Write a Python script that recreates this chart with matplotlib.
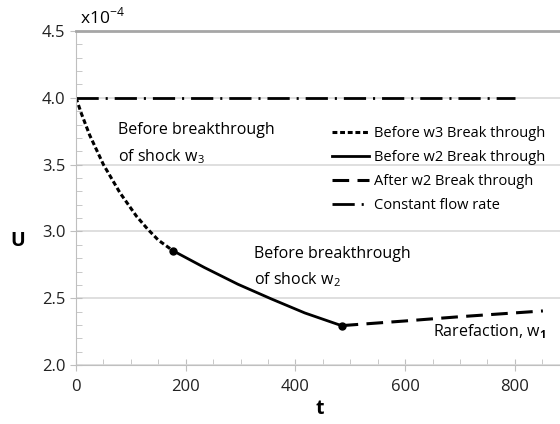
import numpy as np
import matplotlib
matplotlib.use('Agg')
import matplotlib.pyplot as plt
from matplotlib.ticker import MultipleLocator, FormatStrFormatter

plt.rcParams['font.family'] = ['Open Sans', 'DejaVu Sans']
plt.rcParams['mathtext.fontset'] = 'custom'
plt.rcParams['mathtext.rm'] = 'Open Sans'
plt.rcParams['mathtext.bf'] = 'Open Sans:bold'
plt.rcParams['lines.scale_dashes'] = False

# U in units of 1e-4
t_w3 = [0, 10, 25, 50, 80, 110, 130, 150, 177]
u_w3 = [4.0, 3.88, 3.72, 3.50, 3.29, 3.115, 3.02, 2.935, 2.855]

t_w2 = [177, 234, 295, 356, 417, 484]
u_w2 = [2.855, 2.73, 2.605, 2.495, 2.39, 2.295]

t_after = [484, 600, 700, 851]
u_after = [2.295, 2.33, 2.362, 2.405]

t_const = [0, 800]
u_const = [4.0, 4.0]

breaks_t = [177, 484]
breaks_u = [2.855, 2.295]

fig = plt.figure(figsize=(5.6, 4.24), dpi=100)
ax = fig.add_axes([0.1357, 0.139, 0.87, 0.788])

ax.plot(t_w3, u_w3, color='black', lw=2.2, dashes=(3.5, 2), label='Before w3 Break through')
ax.plot(t_w2, u_w2, color='black', lw=2, label='Before w2 Break through')
ax.plot(t_after, u_after, color='black', lw=2.2, dashes=(12, 6), label='After w2 Break through')
ax.plot(t_const, u_const, color='black', lw=2, dashes=(16, 5, 1.5, 5), label='Constant flow rate')
ax.plot(breaks_t, breaks_u, 'o', color='black', ms=5, zorder=5)

ax.set_xlim(0, 888)
ax.set_ylim(2.0, 4.5)
ax.xaxis.set_major_locator(MultipleLocator(200))
ax.xaxis.set_minor_locator(MultipleLocator(50))
ax.yaxis.set_major_locator(MultipleLocator(0.5))
ax.yaxis.set_minor_locator(MultipleLocator(0.1))
ax.yaxis.set_major_formatter(FormatStrFormatter('%.1f'))

ax.grid(axis='y', which='major', color='#d9d9d9', lw=1.2)
ax.set_axisbelow(True)
for s in ['left', 'bottom']:
    ax.spines[s].set_color('#bfbfbf')
ax.spines['right'].set_visible(False)
ax.spines['top'].set_color('#a6a6a6')
ax.spines['top'].set_linewidth(2)

ax.tick_params(which='major', direction='inout', length=8, color='#bfbfbf', labelsize=12, labelcolor='#222222')
ax.tick_params(which='minor', direction='in', length=4, color='#bfbfbf')
ax.tick_params(axis='x', pad=6)

ax.set_xlabel('t', fontsize=14, fontweight='bold', labelpad=3)
ax.set_ylabel('U', fontsize=14, fontweight='bold', rotation=0)
ax.yaxis.set_label_coords(-0.12, 0.34)

ax.text(0.008, 1.012, r'x10$^{-4}$', transform=ax.transAxes, fontsize=12.5, ha='left', va='bottom')

ax.text(77, 3.76, 'Before breakthrough', fontsize=11.5, va='center')
ax.text(77, 3.56, r'of shock w$_{3}$', fontsize=11.5, va='center')
ax.text(325, 2.83, 'Before breakthrough', fontsize=11.5, va='center')
ax.text(325, 2.64, r'of shock w$_{2}$', fontsize=11.5, va='center')
ax.text(651, 2.25, r'Rarefaction, w$_\mathbf{1}$', fontsize=11.5, va='center')

ax.legend(loc='upper left', bbox_to_anchor=(0.514, 0.733), frameon=False, fontsize=10.5,
          handlelength=2.5, handletextpad=0.35, labelspacing=0.62, borderaxespad=0)

fig.savefig('out.png', dpi=100)
